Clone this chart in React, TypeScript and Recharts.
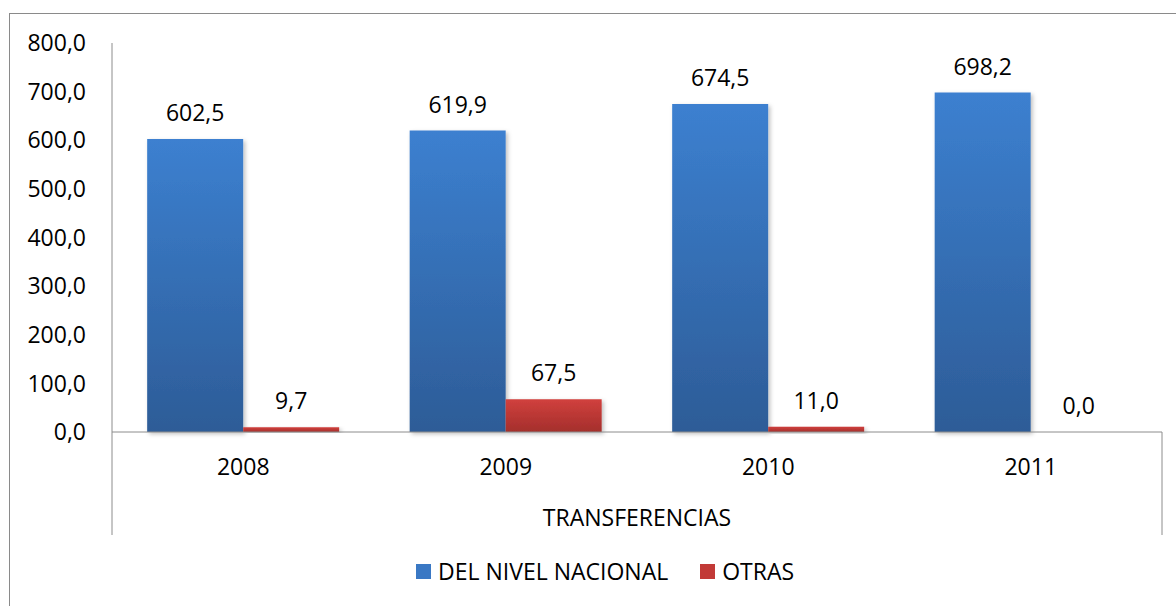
import { Bar, BarChart, LabelList, Label, Legend, XAxis, YAxis } from "recharts";

const years = ["2008", "2009", "2010", "2011"];
const nacional = [602.5, 619.9, 674.5, 698.2];
const otras = [9.7, 67.5, 11.0, 0.0];
const yTicks = [0, 100, 200, 300, 400, 500, 600, 700, 800];

const rows = years.map((year, i) => ({ year, nacional: nacional[i], otras: otras[i] }));

const W = 1176;
const H = 606;
const MARGIN = { top: 43, right: 14, bottom: 0, left: 0 };
const Y_AXIS_W = 112;
const X_AXIS_H = 103;
const LEGEND_H = 71;
const PLOT_BOTTOM = H - MARGIN.bottom - LEGEND_H - X_AXIS_H;
const BAND = (W - MARGIN.right - Y_AXIS_W) / years.length;

const FONT = "'Open Sans', sans-serif";
const FS = 23;
const AXIS = "#8c8c8c";
const fmt = (v: number) => v.toFixed(1).replace(".", ",");

function YearTick({ x, payload, index }: { x: number; payload: { value: string }; index: number }) {
  return (
    <g>
      {index === 0 && (
        <line x1={x - BAND / 2} x2={x - BAND / 2} y1={PLOT_BOTTOM} y2={PLOT_BOTTOM + X_AXIS_H} stroke={AXIS} />
      )}
      {index === years.length - 1 && (
        <line x1={x + BAND / 2} x2={x + BAND / 2} y1={PLOT_BOTTOM} y2={PLOT_BOTTOM + X_AXIS_H} stroke={AXIS} />
      )}
      <text x={x} y={PLOT_BOTTOM + 43} textAnchor="middle" fontFamily={FONT} fontSize={FS} fill="#000">
        {payload.value}
      </text>
    </g>
  );
}

function LegendBox() {
  const items = [
    { name: "DEL NIVEL NACIONAL", color: "#3a78c4" },
    { name: "OTRAS", color: "#c23a37" },
  ];
  return (
    <div style={{ display: "flex", alignItems: "center", paddingLeft: 416, fontFamily: FONT, fontSize: FS }}>
      {items.map((it) => (
        <div key={it.name} style={{ display: "flex", alignItems: "center", marginRight: 32 }}>
          <span style={{ width: 15, height: 15, background: it.color, marginRight: 7, display: "inline-block" }} />
          <span style={{ color: "#000" }}>{it.name}</span>
        </div>
      ))}
    </div>
  );
}

export default function App() {
  return (
    <div style={{ position: "absolute", left: 0, top: 0, width: W, height: H, overflow: "hidden", background: "#fff" }}>
      <div
        style={{
          position: "absolute",
          left: 9,
          top: 13,
          width: 1200,
          height: 700,
          border: "1px solid #8a8a8a",
        }}
      />
      <div style={{ position: "absolute", left: 0, top: 0 }}>
        <BarChart width={W} height={H} data={rows} margin={MARGIN} barCategoryGap="13.4%" barGap={0}>
          <defs>
            <linearGradient id="gBlue" x1="0" y1="0" x2="0" y2="1">
              <stop offset="0%" stopColor="#3c80d0" />
              <stop offset="100%" stopColor="#2d5c97" />
            </linearGradient>
            <linearGradient id="gRed" x1="0" y1="0" x2="0" y2="1">
              <stop offset="0%" stopColor="#d1403d" />
              <stop offset="100%" stopColor="#a42f2c" />
            </linearGradient>
            <filter id="shadow" x="-10%" y="-10%" width="130%" height="130%">
              <feDropShadow dx="2" dy="2" stdDeviation="2" floodColor="#000" floodOpacity="0.25" />
            </filter>
          </defs>
          <YAxis
            width={Y_AXIS_W}
            domain={[0, 800]}
            ticks={yTicks}
            tickFormatter={fmt}
            tickLine={false}
            tickSize={0}
            tickMargin={26}
            axisLine={{ stroke: AXIS }}
            tick={{ fill: "#000", fontFamily: FONT, fontSize: FS }}
          />
          <XAxis
            dataKey="year"
            height={X_AXIS_H}
            tickLine={false}
            axisLine={{ stroke: AXIS }}
            tick={(p: any) => <YearTick {...p} />}
            interval={0}
          >
            <Label
              value="TRANSFERENCIAS"
              position="insideBottom"
              offset={9}
              style={{ fill: "#000", fontFamily: FONT, fontSize: FS }}
            />
          </XAxis>
          <Legend height={LEGEND_H} wrapperStyle={{ top: 555, left: 0, width: W }} content={() => <LegendBox />} />
          <Bar dataKey="nacional" name="DEL NIVEL NACIONAL" fill="url(#gBlue)" isAnimationActive={false} filter="url(#shadow)">
            <LabelList dataKey="nacional" position="top" offset={18} formatter={(v: any) => fmt(Number(v))} style={{ fill: "#000", fontFamily: FONT, fontSize: FS }} />
          </Bar>
          <Bar dataKey="otras" name="OTRAS" fill="url(#gRed)" isAnimationActive={false} filter="url(#shadow)" minPointSize={0.01}>
            <LabelList dataKey="otras" position="top" offset={18} formatter={(v: any) => fmt(Number(v))} style={{ fill: "#000", fontFamily: FONT, fontSize: FS }} />
          </Bar>
        </BarChart>
      </div>
    </div>
  );
}
